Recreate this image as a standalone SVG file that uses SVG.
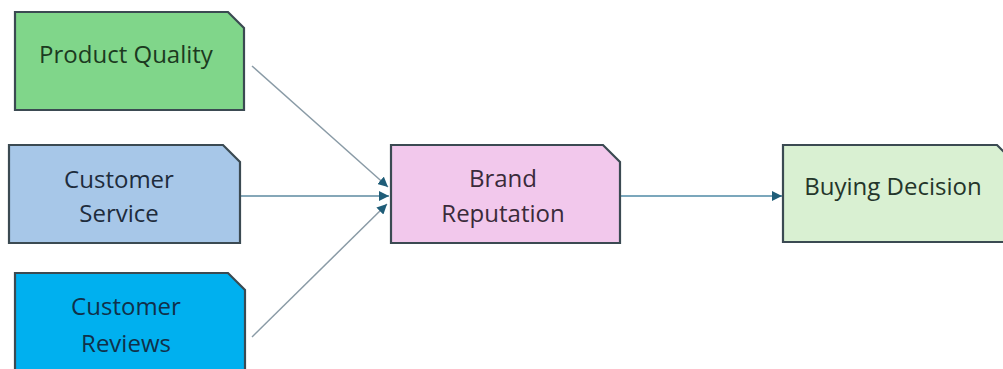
<svg xmlns="http://www.w3.org/2000/svg" width="1003" height="369" viewBox="0 0 1003 369">
<defs>
<style>
.box{stroke:#3b4a52;stroke-width:2.2;}
.lbl{font-family:"Open Sans","Liberation Sans",sans-serif;font-size:24px;text-anchor:middle;}
.conn{fill:none;stroke-width:1.5;}
</style>
<marker id="ah" viewBox="0 0 10 10" refX="10" refY="5" markerWidth="10" markerHeight="10" markerUnits="userSpaceOnUse" orient="auto">
<path d="M0,0 L10,5 L0,10 Z" fill="#1f5d78"/>
</marker>
</defs>
<rect width="1003" height="369" fill="#ffffff"/>
<g id="connectors">
<line class="conn" x1="252" y1="66" x2="388" y2="187" stroke="#8a9ba6" marker-end="url(#ah)"/>
<line class="conn" x1="236" y1="196" x2="389" y2="196" stroke="#5d8aa0" marker-end="url(#ah)"/>
<line class="conn" x1="252" y1="337" x2="387" y2="204" stroke="#8a9ba6" marker-end="url(#ah)"/>
<line class="conn" x1="621" y1="196" x2="782" y2="196" stroke="#4f8aa6" marker-end="url(#ah)"/>
</g>
<g id="product-quality">
<path class="box" d="M15,12 H228 L244,28 V110 H15 Z" fill="#80d68a"/>
<text class="lbl" x="126" y="63" fill="#1c3a1f">Product Quality</text>
</g>
<g id="customer-service">
<path class="box" d="M9,145 H223 L240,162 V243 H9 Z" fill="#a7c7e8"/>
<text class="lbl" x="119" y="188" fill="#1e2c3c">Customer</text>
<text class="lbl" x="119" y="222" fill="#1e2c3c">Service</text>
</g>
<g id="customer-reviews">
<path class="box" d="M15,273 H228 L245,290 V380 H15 Z" fill="#00b0ef"/>
<text class="lbl" x="126" y="315" fill="#10304a">Customer</text>
<text class="lbl" x="126" y="352" fill="#10304a">Reviews</text>
</g>
<g id="brand-reputation">
<path class="box" d="M391,145 H603 L620,162 V243 H391 Z" fill="#f2c8ec"/>
<text class="lbl" x="503" y="187" fill="#3a2b3a">Brand</text>
<text class="lbl" x="503" y="222" fill="#3a2b3a">Reputation</text>
</g>
<g id="buying-decision">
<path class="box" d="M783,145 H997 L1014,162 V242 H783 Z" fill="#d9f0d2"/>
<text class="lbl" x="893" y="195" fill="#24352a">Buying Decision</text>
</g>
</svg>
